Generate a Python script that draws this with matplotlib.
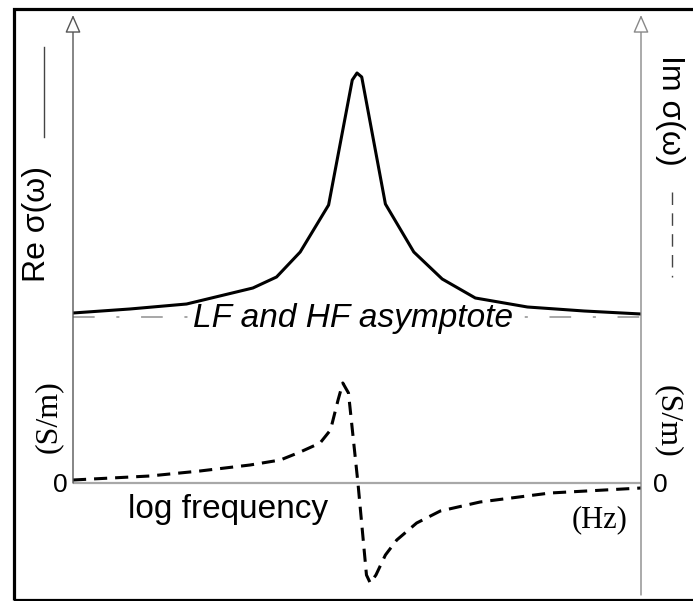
import numpy as np
from matplotlib import pyplot as plt
from matplotlib.patches import Rectangle
from matplotlib.lines import Line2D

# log frequency axis (arbitrary decades), resonance at 3
re_x = [0.0, 0.6, 1.2, 1.9, 2.15, 2.4, 2.7, 2.95, 3.0, 3.05, 3.3, 3.6, 3.9, 4.25, 4.8, 5.4, 6.0]
re_y = [1.70, 1.74, 1.79, 1.95, 2.06, 2.31, 2.78, 4.03, 4.10, 4.06, 2.79, 2.31, 2.04, 1.85, 1.76, 1.72, 1.69]
re_asym = 1.66

im_x = [0.0, 0.81, 1.34, 1.87, 2.19, 2.40, 2.61, 2.72, 2.80, 2.85, 2.91, 3.01, 3.10, 3.14, 3.20,
        3.30, 3.42, 3.63, 3.88, 4.30, 5.04, 6.0]
im_y = [0.03, 0.07, 0.12, 0.18, 0.23, 0.31, 0.40, 0.53, 0.83, 1.00, 0.90, 0.0, -0.92, -1.00, -0.92,
        -0.72, -0.57, -0.40, -0.28, -0.19, -0.10, -0.05]

W, H = 693, 601
SANS = 'Liberation Sans'
SERIF = 'Liberation Serif'


def px(x, y):
    # pixel position -> figure fraction
    return x / W, 1 - y / H


fig = plt.figure(figsize=(W / 100, H / 100), dpi=100)
ax = fig.add_axes([73 / W, 6 / H, (641 - 73) / W, (595 - 15) / H])
ax.set_xlim(0, 6)
ax.set_ylim(-1.12, 4.68)
ax.axis('off')

# zero line for the imaginary part
ax.axhline(0, color='#a8a8a8', lw=1.6, zorder=1)
# LF / HF asymptote
ax.axhline(re_asym, color='#a0a0a0', lw=1.3, dashes=(12, 12, 1.7, 12), zorder=1)
# label sits on the asymptote and hides it, curve stays on top
ax.text(*px(193, 327), 'LF and HF asymptote', transform=fig.transFigure, ha='left',
        va='baseline', family=SANS, style='italic', fontsize=24, zorder=2,
        bbox=dict(fc='white', ec='none', pad=2))

ax.plot(re_x, re_y, color='k', lw=2.2, zorder=3)
ax.plot(im_x, im_y, color='k', lw=2.2, dashes=(4.3, 2.6), zorder=3)

# axes with open arrow heads
tr = ax.get_yaxis_transform()
arrow = dict(arrowstyle='-|>,head_length=0.55,head_width=0.24', mutation_scale=20,
             fc='white', lw=1, shrinkA=0, shrinkB=0)
ax.annotate('', xy=(0, 4.68), xytext=(0, 0), xycoords=tr, textcoords=tr,
            arrowprops=dict(arrow, ec='#555555'), annotation_clip=False)
ax.annotate('', xy=(1, 4.68), xytext=(1, -1.12), xycoords=tr, textcoords=tr,
            arrowprops=dict(arrow, ec='#888888'), annotation_clip=False)

# frame around the figure
fig.add_artist(Rectangle(px(13.5, 599.5), 700 / W, 591 / H, transform=fig.transFigure,
                         fill=False, ec='k', lw=2.3, clip_on=False))

# legend-like strokes next to the axis titles
fig.add_artist(Line2D(*zip(px(44, 47), px(44, 137)), color='#444444', lw=1))
fig.add_artist(Line2D(*zip(px(672, 192), px(672, 277)), color='#444444', lw=1,
                      dashes=(9, 6)))

fig.text(*px(37, 224), 'Re σ(ω)', rotation=90, ha='center', va='center',
         family=SANS, fontsize=23)
fig.text(*px(670, 110), 'Im σ(ω)', rotation=270, ha='center', va='center',
         family=SANS, fontsize=23)
fig.text(*px(48, 417), '(S/m)', rotation=90, ha='center', va='center',
         family=SERIF, fontsize=23)
fig.text(*px(668, 421), '(S/m)', rotation=270, ha='center', va='center',
         family=SERIF, fontsize=23)
fig.text(*px(60, 485), '0', ha='center', va='center', family=SANS, fontsize=19)
fig.text(*px(660, 485), '0', ha='center', va='center', family=SANS, fontsize=19)
fig.text(*px(128, 518), 'log frequency', ha='left', va='baseline', family=SANS, fontsize=24)
fig.text(*px(600, 527), '(Hz)', ha='center', va='baseline', family=SERIF, fontsize=22)

fig.savefig('out.png', dpi=100)
